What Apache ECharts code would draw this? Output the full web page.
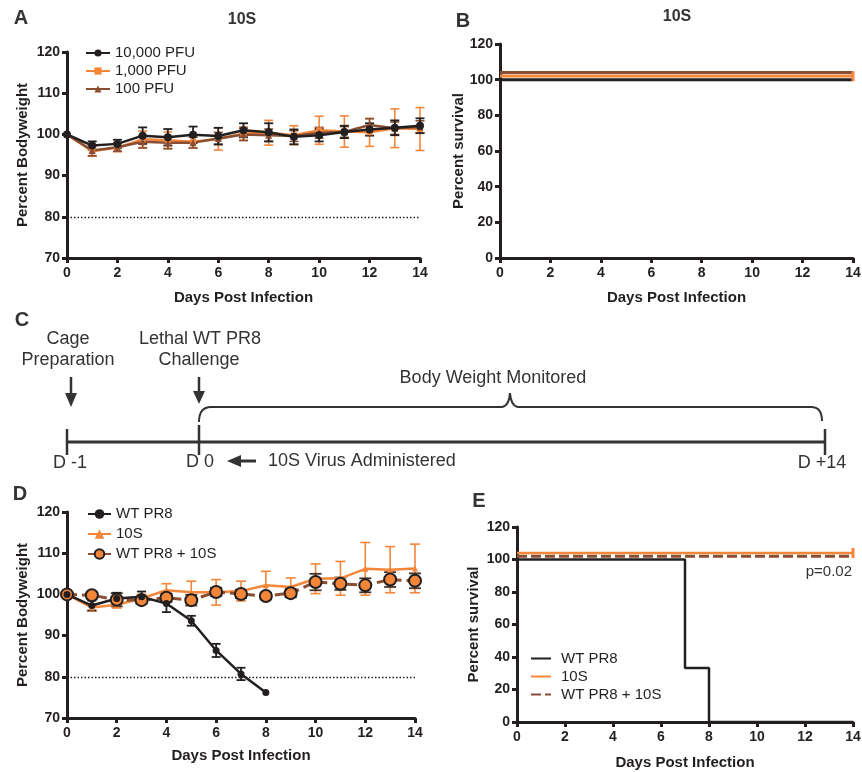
<!DOCTYPE html>
<html>
<head>
<meta charset="utf-8">
<title>10S infection</title>
<script src="https://cdn.jsdelivr.net/npm/echarts@6/dist/echarts.min.js"></script>
<style>
  html, body { margin: 0; padding: 0; background: #fff; }
  #chart { width: 862px; height: 772px; }
</style>
</head>
<body>
<div id="chart"></div>
<script>
// ---- data ----
const days = [0, 1, 2, 3, 4, 5, 6, 7, 8, 9, 10, 11, 12, 13, 14]
const threshold = 80

// panel A: bodyweight after 10S at three doses
const aNames = ['10,000 PFU', '1,000 PFU', '100 PFU']
const a10000 = [100, 97.3, 97.7, 99.7, 99.3, 99.9, 99.6, 101.0, 100.5, 99.4, 99.8, 100.6, 101.2, 101.6, 102.1]
const a10000Err = [0, 1.0, 1.0, 2.0, 2.0, 2.0, 2.0, 1.7, 2.2, 1.8, 1.5, 1.5, 1.5, 1.8, 1.8]
const a1000 = [100, 95.9, 96.8, 98.8, 98.6, 98.2, 98.9, 100.2, 100.4, 99.8, 101.0, 100.7, 100.5, 101.5, 101.3]
const a1000Err = [0, 1.2, 1.0, 2.0, 2.0, 1.5, 2.7, 1.6, 3.0, 2.3, 3.4, 3.8, 3.4, 4.7, 5.2]
const a100 = [100, 96.1, 96.9, 98.2, 98.0, 98.0, 99.0, 100.0, 99.8, 99.6, 100.4, 100.6, 102.3, 101.5, 101.8]
const a100Err = [0, 1.3, 1.0, 1.5, 1.5, 1.3, 1.5, 1.5, 1.5, 1.3, 1.3, 1.3, 1.5, 1.5, 1.5]

// panel B: survival (curves drawn offset where they overlap, as in the figure)
const bDays = [0, 14]
const b10000 = [100, 100]
const b1000 = [102, 102]
const b100 = [104, 104]

// panel D: bodyweight after lethal challenge
const dNames = ['WT PR8', '10S', 'WT PR8 + 10S']
const dWTDays = [0, 1, 2, 3, 4, 5, 6, 7, 8]
const dWT = [100, 97.3, 99.0, 99.4, 97.8, 93.6, 86.4, 80.7, 76.2]
const dWTErr = [0, 1.2, 1.4, 1.3, 2.1, 1.2, 1.6, 1.5, 0]
const d10S = [100, 96.8, 97.5, 99.0, 101.0, 100.5, 100.5, 100.8, 102.2, 101.8, 103.8, 103.9, 106.2, 106.0, 106.3]
const d10SErr = [0, 0.8, 0.8, 1.0, 1.6, 2.7, 3.1, 2.4, 3.4, 2.2, 3.6, 4.1, 6.4, 5.6, 5.9]
const dCombo = [100, 99.8, 98.7, 98.6, 99.2, 98.6, 100.6, 100.1, 99.6, 100.3, 103.0, 102.6, 102.2, 103.6, 103.3]
const dComboErr = [0, 0.8, 1.6, 0.8, 1.0, 1.3, 1.0, 1.0, 0.8, 1.0, 2.0, 1.5, 1.7, 1.8, 1.8]

// panel E: survival after lethal challenge
const eWTDays = [0, 7, 8, 14]
const eWT = [100, 33.3, 0, 0]
const eDays = [0, 14]
const e10S = [104, 104]
const eCombo = [102, 102]

// ---- styling ----
const FONT = '"Liberation Sans", Arial, Helvetica, sans-serif'
const INK = '#231f20'
const GREY = '#333333'
const ORANGE = '#f4863a'
const BROWN = '#8a4f32'

const pairs = (xs, ys) => xs.map((x, i) => [x, ys[i]])

function xAxisFor(gridIndex, nameGap) {
  return {
    type: 'value', gridIndex, min: 0, max: 14, interval: 2,
    name: 'Days Post Infection', nameLocation: 'middle', nameGap, nameMoveOverlap: false,
    nameTextStyle: { fontFamily: FONT, fontWeight: 'bold', fontSize: 15, color: INK },
    axisLine: { show: true, onZero: false, lineStyle: { color: INK, width: 3 } },
    axisTick: { show: true, inside: false, length: 5, lineStyle: { color: INK, width: 3 } },
    axisLabel: { margin: 8, fontFamily: FONT, fontWeight: 'bold', fontSize: 14, color: INK, showMinLabel: true, showMaxLabel: true },
    splitLine: { show: false }
  }
}

function yAxisFor(gridIndex, name, min, max, interval, nameGap) {
  return {
    type: 'value', gridIndex, min, max, interval,
    name, nameLocation: 'middle', nameGap, nameMoveOverlap: false,
    nameTextStyle: { fontFamily: FONT, fontWeight: 'bold', fontSize: 15, color: INK },
    axisLine: { show: true, onZero: false, lineStyle: { color: INK, width: 3 } },
    axisTick: { show: true, inside: false, length: 5, lineStyle: { color: INK, width: 3 } },
    axisLabel: { margin: 7, fontFamily: FONT, fontWeight: 'bold', fontSize: 14, color: INK, showMinLabel: true, showMaxLabel: true },
    splitLine: { show: false }
  }
}

function lineSeries(name, data, idx, color, extra) {
  return Object.assign({
    type: 'line', name, xAxisIndex: idx, yAxisIndex: idx, data,
    showSymbol: true, symbol: 'circle', symbolSize: 7,
    lineStyle: { color, width: 2.5 }, itemStyle: { color },
    emphasis: { disabled: true }, clip: false, animation: false
  }, extra || {})
}

function errorBars(xs, means, errs, idx, color, width, cap) {
  return {
    type: 'custom', name: 'err', xAxisIndex: idx, yAxisIndex: idx, silent: true, animation: false,
    data: xs.map((x, i) => [x, means[i] - errs[i], means[i] + errs[i]]),
    encode: { x: 0, y: [1, 2] },
    renderItem(params, api) {
      if (api.value(1) === api.value(2)) return null
      const lo = api.coord([api.value(0), api.value(1)])
      const hi = api.coord([api.value(0), api.value(2)])
      const h = cap / 2
      const style = { stroke: color, lineWidth: width, fill: null }
      return {
        type: 'group', children: [
          { type: 'line', shape: { x1: lo[0], y1: lo[1], x2: hi[0], y2: hi[1] }, style },
          { type: 'line', shape: { x1: hi[0] - h, y1: hi[1], x2: hi[0] + h, y2: hi[1] }, style },
          { type: 'line', shape: { x1: lo[0] - h, y1: lo[1], x2: lo[0] + h, y2: lo[1] }, style }
        ]
      }
    }
  }
}

const cutoff = {
  silent: true, symbol: 'none', label: { show: false }, animation: false,
  lineStyle: { type: [1.5, 2], color: INK, width: 1.3 },
  data: [{ yAxis: threshold }]
}

const endTick = (val, p) => (p.dataIndex === 1 ? [3, 10] : 0)

function txt(x, y, text, size, weight, align) {
  return {
    type: 'text', x, y, silent: true,
    style: {
      text, fill: GREY, fontFamily: FONT, fontSize: size, fontWeight: weight || 'normal',
      align: align || 'center', verticalAlign: 'middle',
      textAlign: align || 'center', textVerticalAlign: 'middle'
    }
  }
}
const seg = (x1, y1, x2, y2, w) => ({ type: 'line', silent: true, shape: { x1, y1, x2, y2 }, style: { stroke: GREY, lineWidth: w || 2.5 } })
const curve = (x1, y1, cpx1, cpy1, x2, y2) => ({ type: 'bezierCurve', silent: true, shape: { x1, y1, cpx1, cpy1, x2, y2 }, style: { stroke: GREY, lineWidth: 2, fill: null } })
const head = (pts) => ({ type: 'polygon', silent: true, shape: { points: pts }, style: { fill: GREY } })

const panelText = [
  // panel letters and titles
  txt(21, 18, 'A', 20, 'bold'),
  txt(463, 21, 'B', 20, 'bold'),
  txt(22, 320, 'C', 20, 'bold'),
  txt(20, 494, 'D', 20, 'bold'),
  txt(479, 501, 'E', 20, 'bold'),
  txt(242, 20, '10S', 16, 'bold'),
  txt(677, 17, '10S', 16, 'bold'),
  txt(852, 572, 'p=0.02', 15, 'normal', 'right'),
  // panel C timeline
  txt(68, 339, 'Cage', 18),
  txt(68, 360, 'Preparation', 18),
  txt(200, 339, 'Lethal WT PR8', 18),
  txt(199, 360, 'Challenge', 18),
  txt(493, 378, 'Body Weight Monitored', 18),
  txt(70, 463, 'D -1', 18),
  txt(200, 462, 'D 0', 18),
  txt(268, 461, '10S Virus Administered', 18, 'normal', 'left'),
  txt(822, 463, 'D +14', 18),
  seg(71, 377, 71, 397, 2.5), head([[65, 393], [77, 393], [71, 407]]),
  seg(199, 377, 199, 393, 2.5), head([[193, 391], [205, 391], [199, 404]]),
  seg(240, 461, 256, 461, 3), head([[227, 461], [241, 455], [241, 467]]),
  seg(66, 442, 826, 442, 3),
  seg(67, 429, 67, 455, 2.5), seg(199, 425, 199, 455, 2.5), seg(825, 429, 825, 455, 2.5),
  curve(199, 422, 199, 407, 211, 407), seg(211, 407, 502, 407, 2),
  curve(502, 407, 509, 406, 510, 393), curve(510, 393, 511, 406, 518, 407),
  seg(518, 407, 811, 407, 2), curve(811, 407, 822, 407, 822, 421)
]

const legendText = { fontFamily: FONT, fontSize: 15, color: INK }

const option = {
  backgroundColor: '#ffffff',
  animation: false,
  grid: [
    { left: 67, top: 52, width: 353, height: 206, containLabel: false, outerBoundsMode: 'none' },
    { left: 500, top: 44, width: 353, height: 214, containLabel: false, outerBoundsMode: 'none' },
    { left: 67, top: 512, width: 348, height: 206, containLabel: false, outerBoundsMode: 'none' },
    { left: 517, top: 527, width: 336, height: 195, containLabel: false, outerBoundsMode: 'none' }
  ],
  xAxis: [xAxisFor(0, 32), xAxisFor(1, 32), xAxisFor(2, 30), xAxisFor(3, 33)],
  yAxis: [
    yAxisFor(0, 'Percent Bodyweight', 70, 120, 10, 37),
    yAxisFor(1, 'Percent survival', 0, 120, 20, 34),
    yAxisFor(2, 'Percent Bodyweight', 70, 120, 10, 37),
    yAxisFor(3, 'Percent survival', 0, 120, 20, 36)
  ],
  legend: [
    {
      data: aNames, orient: 'vertical', left: 85, top: 45.5, padding: 0,
      itemWidth: 24, itemHeight: 9, itemGap: 3, selectedMode: false,
      textStyle: legendText
    },
    {
      data: dNames, orient: 'vertical', left: 87, top: 506.5, padding: 0,
      itemWidth: 23, itemHeight: 12, itemGap: 5, selectedMode: false,
      textStyle: legendText
    },
    {
      data: dNames.map(n => 'E ' + n), orient: 'vertical', left: 530, top: 651, padding: 0,
      itemWidth: 20, itemHeight: 10, itemGap: 3, selectedMode: false,
      itemStyle: { opacity: 0 },
      formatter: n => n.slice(2),
      textStyle: Object.assign({ padding: [0, 0, 0, 5] }, legendText)
    }
  ],
  graphic: panelText,
  series: [
    // A
    errorBars(days, a1000, a1000Err, 0, ORANGE, 1.6, 9),
    lineSeries(aNames[1], pairs(days, a1000), 0, ORANGE, { symbol: 'rect', symbolSize: 6 }),
    errorBars(days, a100, a100Err, 0, BROWN, 1.6, 9),
    lineSeries(aNames[2], pairs(days, a100), 0, BROWN, { symbol: 'triangle', symbolSize: 7 }),
    errorBars(days, a10000, a10000Err, 0, INK, 1.8, 9),
    lineSeries(aNames[0], pairs(days, a10000), 0, INK, { symbolSize: 8, markLine: cutoff }),
    // B
    lineSeries('B 10,000 PFU', pairs(bDays, b10000), 1, INK, { symbol: 'none', step: 'end', lineStyle: { color: INK, width: 3 } }),
    lineSeries('B 1,000 PFU', pairs(bDays, b1000), 1, ORANGE, { symbol: 'rect', symbolSize: endTick, step: 'end', lineStyle: { color: ORANGE, width: 3 } }),
    lineSeries('B 100 PFU', pairs(bDays, b100), 1, BROWN, { symbol: 'none', step: 'end', lineStyle: { color: BROWN, width: 3 } }),
    // D
    errorBars(days, d10S, d10SErr, 2, ORANGE, 1.6, 10),
    lineSeries(dNames[1], pairs(days, d10S), 2, ORANGE, { symbol: 'triangle', symbolSize: 6, markLine: cutoff }),
    errorBars(days, dCombo, dComboErr, 2, '#4a3325', 1.8, 12),
    lineSeries(dNames[2], pairs(days, dCombo), 2, ORANGE, {
      symbolSize: 12,
      lineStyle: { color: BROWN, width: 3, type: [10, 5] },
      itemStyle: { color: ORANGE, borderColor: INK, borderWidth: 2 }
    }),
    errorBars(dWTDays, dWT, dWTErr, 2, INK, 1.8, 9),
    lineSeries(dNames[0], pairs(dWTDays, dWT), 2, INK, { symbolSize: 7 }),
    // E
    lineSeries('E ' + dNames[1], pairs(eDays, e10S), 3, ORANGE, { symbol: 'rect', symbolSize: endTick, step: 'end', lineStyle: { color: ORANGE, width: 2.5 } }),
    lineSeries('E ' + dNames[2], pairs(eDays, eCombo), 3, BROWN, { symbol: 'none', step: 'end', lineStyle: { color: BROWN, width: 3, type: [10, 4] } }),
    lineSeries('E ' + dNames[0], pairs(eWTDays, eWT), 3, INK, { symbol: 'none', step: 'end', lineStyle: { color: INK, width: 2.5 } })
  ]
}

const chart = echarts.init(document.getElementById('chart'), null, { renderer: 'canvas' })
chart.setOption(option)
</script>
</body>
</html>
